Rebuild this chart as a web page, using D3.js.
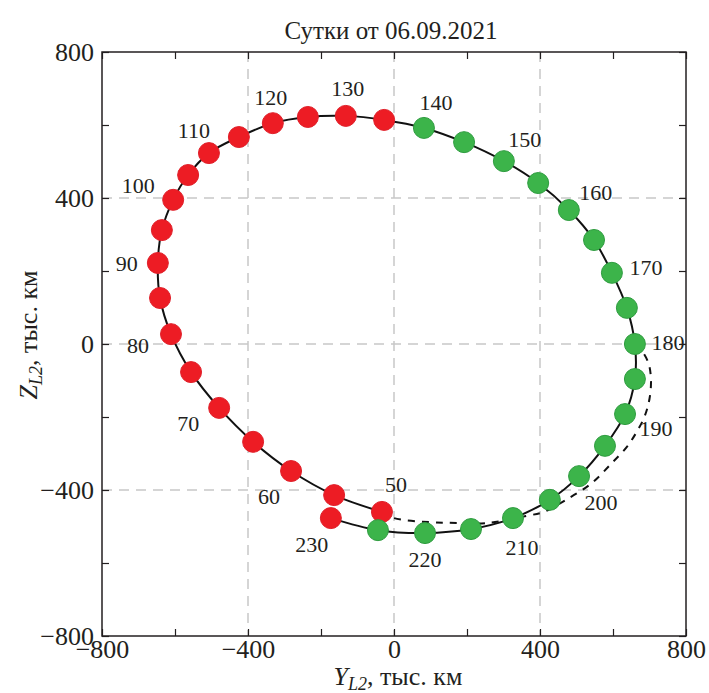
<!DOCTYPE html>
<html>
<head>
<meta charset="utf-8">
<script src="https://cdn.jsdelivr.net/npm/d3@7"></script>
<style>
  body { margin: 0; background: #fff; }
  text { font-family: "Liberation Serif", "Times New Roman", serif; fill: #231f20; }
</style>
</head>
<body>
<div id="chart"></div>
<script>
// Days (every 5) and orbit coordinates, thousand km
var days = [50, 55, 60, 65, 70, 75, 80, 85, 90, 95, 100, 105, 110, 115, 120, 125, 130, 135,
            140, 145, 150, 155, 160, 165, 170, 175, 180, 185, 190, 195, 200, 205, 210, 215, 220, 225, 230];
var y_l2 = [-33, -164, -282, -386, -479, -556, -611, -641, -647, -636, -605, -564, -507, -425, -332, -236, -132, -27,
            82, 192, 301, 395, 479, 548, 597, 638, 660, 660, 633, 578, 507, 427, 326, 211, 85, -44, -173];
var z_l2 = [-460, -414, -348, -268, -175, -77, 27, 126, 222, 312, 395, 463, 523, 567, 605, 622, 625, 614,
            592, 553, 501, 441, 367, 285, 195, 99, 0, -96, -192, -279, -362, -427, -477, -507, -518, -510, -477];
var groups = ['r', 'r', 'r', 'r', 'r', 'r', 'r', 'r', 'r', 'r', 'r', 'r', 'r', 'r', 'r', 'r', 'r', 'r',
              'g', 'g', 'g', 'g', 'g', 'g', 'g', 'g', 'g', 'g', 'g', 'g', 'g', 'g', 'g', 'g', 'g', 'g', 'r'];

// Dashed trajectory (from day 180 around to day 50)
var dash_y = [660, 680, 698, 704, 700, 686, 663, 638, 597, 542, 471, 411, 362, 260, 151, 96, 0, -33];
var dash_z = [0, -20, -55, -100, -150, -200, -244, -282, -326, -381, -427, -460, -471, -490, -490, -488, -477, -460];

var tick_values = [-800, -600, -400, -200, 0, 200, 400, 600, 800];
var label_ticks = [-800, -400, 0, 400, 800];
var grid_values = [-400, 0, 400];

// Label offsets in px (layout only)
var label_offsets = {
    50: [14, -28], 60: [-22, 25], 70: [-31, 15], 80: [-33, 11], 90: [-31, 0],
    100: [-35, -15], 110: [-15, -23], 120: [-2, -26], 130: [2, -28], 140: [12, -26],
    150: [21, -22], 160: [27, -18], 170: [34, -6], 180: [33, -2], 190: [31, 14],
    200: [22, 26], 210: [9, 29], 220: [0, 26], 230: [-19, 26]
};

var chart_width = 709;
var chart_height = 693;
var plot_left = 102, plot_right = 686, plot_top = 52, plot_bottom = 636;

var svg = d3.select('#chart')
    .append('svg')
    .attr('width', chart_width)
    .attr('height', chart_height);

var x_scale = d3.scaleLinear().domain([-800, 800]).range([plot_left, plot_right]);
var y_scale = d3.scaleLinear().domain([-800, 800]).range([plot_bottom, plot_top]);

// Grid
svg.selectAll('.gx')
    .data(grid_values)
    .enter()
    .append('line')
    .attr('x1', function(d) { return x_scale(d); })
    .attr('x2', function(d) { return x_scale(d); })
    .attr('y1', plot_top)
    .attr('y2', plot_bottom)
    .attr('stroke', '#c8c8c8')
    .attr('stroke-width', 1.5)
    .attr('stroke-dasharray', '10,7');

svg.selectAll('.gy')
    .data(grid_values)
    .enter()
    .append('line')
    .attr('y1', function(d) { return y_scale(d); })
    .attr('y2', function(d) { return y_scale(d); })
    .attr('x1', plot_left)
    .attr('x2', plot_right)
    .attr('stroke', '#c8c8c8')
    .attr('stroke-width', 1.5)
    .attr('stroke-dasharray', '10,7');

// Axes
var fmt = d3.format('d');
function labelFormat(d) {
    return label_ticks.indexOf(d) >= 0 ? fmt(d) : '';
}

function styleAxis(g) {
    g.select('.domain').remove();
    g.selectAll('.tick line').attr('stroke', '#231f20').attr('stroke-width', 1.2);
    g.selectAll('.tick text')
        .attr('font-family', '"Liberation Serif", "Times New Roman", serif')
        .attr('font-size', 26)
        .attr('fill', '#231f20');
}

svg.append('g')
    .attr('transform', 'translate(0,' + plot_bottom + ')')
    .call(d3.axisBottom(x_scale).tickValues(tick_values).tickSize(-7).tickPadding(4).tickFormat(labelFormat))
    .call(styleAxis);

svg.append('g')
    .attr('transform', 'translate(0,' + plot_top + ')')
    .call(d3.axisTop(x_scale).tickValues(tick_values).tickSize(-7).tickFormat(''))
    .call(styleAxis);

svg.append('g')
    .attr('transform', 'translate(' + plot_left + ',0)')
    .call(d3.axisLeft(y_scale).tickValues(tick_values).tickSize(-7).tickPadding(8).tickFormat(labelFormat))
    .call(styleAxis);

svg.append('g')
    .attr('transform', 'translate(' + plot_right + ',0)')
    .call(d3.axisRight(y_scale).tickValues(tick_values).tickSize(-7).tickFormat(''))
    .call(styleAxis);

svg.append('rect')
    .attr('x', plot_left)
    .attr('y', plot_top)
    .attr('width', plot_right - plot_left)
    .attr('height', plot_bottom - plot_top)
    .attr('fill', 'none')
    .attr('stroke', '#231f20')
    .attr('stroke-width', 1.5);

// Lines
var line = d3.line()
    .x(function(d) { return x_scale(d[0]); })
    .y(function(d) { return y_scale(d[1]); })
    .curve(d3.curveCatmullRom.alpha(0.5));

svg.append('path')
    .datum(d3.zip(dash_y, dash_z))
    .attr('d', line)
    .attr('fill', 'none')
    .attr('stroke', '#111')
    .attr('stroke-width', 2)
    .attr('stroke-dasharray', '7,7');

svg.append('path')
    .datum(d3.zip(y_l2, z_l2))
    .attr('d', line)
    .attr('fill', 'none')
    .attr('stroke', '#111')
    .attr('stroke-width', 2);

// Points
var points = days.map(function(d, i) {
    return { day: d, y: y_l2[i], z: z_l2[i], g: groups[i] };
});

svg.selectAll('circle')
    .data(points)
    .enter()
    .append('circle')
    .attr('cx', function(d) { return x_scale(d.y); })
    .attr('cy', function(d) { return y_scale(d.z); })
    .attr('r', 10.5)
    .attr('fill', function(d) { return d.g === 'r' ? '#ed1c24' : '#3cb44a'; })
    .attr('stroke', function(d) { return d.g === 'r' ? '#e0202a' : '#2f9c40'; })
    .attr('stroke-width', 1);

// Day labels
svg.selectAll('.day-label')
    .data(points.filter(function(d) { return d.day % 10 === 0; }))
    .enter()
    .append('text')
    .attr('class', 'day-label')
    .text(function(d) { return d.day; })
    .attr('x', function(d) { return x_scale(d.y) + label_offsets[d.day][0]; })
    .attr('y', function(d) { return y_scale(d.z) + label_offsets[d.day][1]; })
    .attr('dy', '0.35em')
    .attr('text-anchor', 'middle')
    .attr('font-size', 22);

// Title
svg.append('text')
    .attr('x', 391)
    .attr('y', 39)
    .attr('text-anchor', 'middle')
    .attr('font-size', 25)
    .text('Сутки от 06.09.2021');

// Axis titles
var xt = svg.append('text')
    .attr('x', 398)
    .attr('y', 685)
    .attr('text-anchor', 'middle')
    .attr('font-size', 26);
xt.append('tspan').attr('font-style', 'italic').text('Y');
xt.append('tspan').attr('font-style', 'italic').attr('font-size', 18).attr('dy', 5).text('L2');
xt.append('tspan').attr('dy', -5).text(', тыс. км');

var yt = svg.append('text')
    .attr('transform', 'translate(37,335) rotate(-90)')
    .attr('text-anchor', 'middle')
    .attr('font-size', 26);
yt.append('tspan').attr('font-style', 'italic').text('Z');
yt.append('tspan').attr('font-style', 'italic').attr('font-size', 18).attr('dy', 5).text('L2');
yt.append('tspan').attr('dy', -5).text(', тыс. км');
</script>
</body>
</html>
